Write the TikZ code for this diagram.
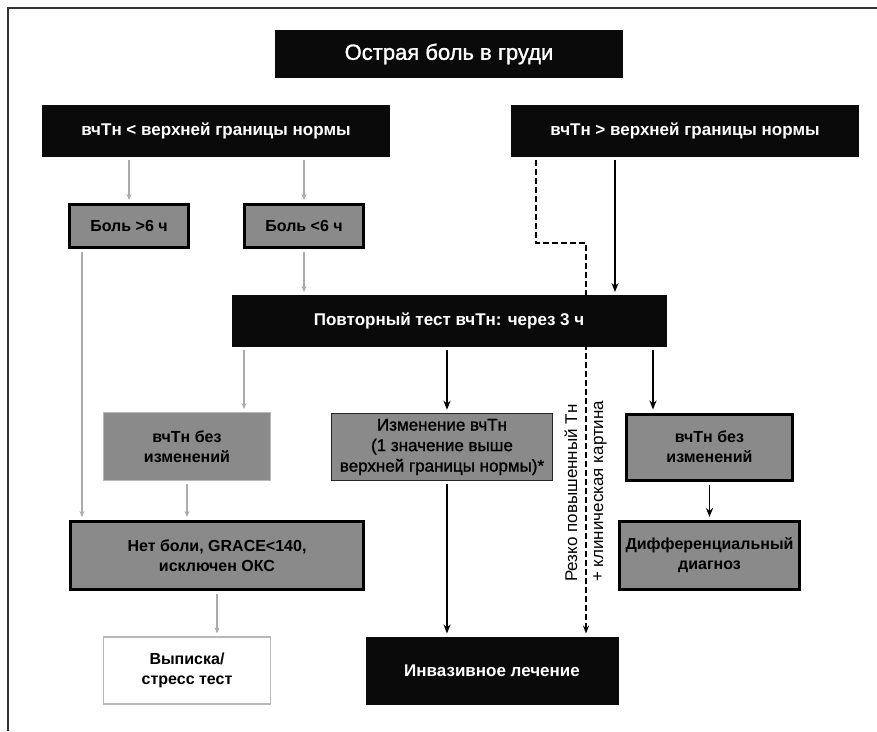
\documentclass[tikz,border=0pt]{standalone}
\usepackage{fontspec}
\setmainfont{Liberation Sans}
\newfontfamily\semibfont{Liberation Sans}[FakeBold=1.3]
\usetikzlibrary{arrows.meta,backgrounds}
\definecolor{boxgray}{HTML}{8A8A8A}
\definecolor{arrgray}{HTML}{ABABAB}
\definecolor{lightborder}{HTML}{B8B8B8}
\definecolor{nearblack}{HTML}{0A0A0A}
\begin{document}
\begin{tikzpicture}[x=1pt,y=-1pt,
  blk/.style={draw=nearblack, fill=nearblack, text=white, line width=1pt,
    font=\bfseries\fontsize{17}{20}\selectfont, inner sep=0pt, align=center},
  gry/.style={draw=black, line width=3pt, fill=boxgray, text=black,
    font=\bfseries\fontsize{16}{20}\selectfont, inner sep=0pt, align=center},
  gryl/.style={draw=lightborder, line width=1pt, fill=boxgray, text=black,
    font=\bfseries\fontsize{16}{20}\selectfont, inner sep=0pt, align=center},
  grym/.style={draw=black!85, line width=1.5pt, fill=boxgray, text=black,
    font=\semibfont\fontsize{17}{20.5}\selectfont, inner sep=0pt, align=center},
  wht/.style={draw=lightborder, line width=1.2pt, fill=white, text=black,
    font=\bfseries\fontsize{16}{20}\selectfont, inner sep=0pt, align=center},
  garr/.style={draw=arrgray, line width=1.2pt, -{Stealth[length=6pt,width=5pt]},
    shorten <=3pt, shorten >=3pt},
  barr/.style={draw=black, line width=1.8pt, -{Stealth[length=9pt,width=7pt]},
    shorten <=3pt, shorten >=3pt},
  darr/.style={draw=black, line width=1.6pt, dash pattern=on 6pt off 3pt,
    -{Stealth[length=8pt,width=6pt]}, shorten <=3pt, shorten >=3pt},
  rottext/.style={rotate=90, anchor=base west, inner sep=0pt,
    font=\fontsize{17}{20}\selectfont}
]
\useasboundingbox (0,0) rectangle (877,731);
\begin{scope}[on background layer]
  \fill[white] (0,0) rectangle (877,731);
\end{scope}
% frame
\draw[line width=2pt, color=black!80] (8,731) -- (8,8) -- (877,8);

% boxes
\node[blk, minimum width=347pt, minimum height=47pt,
  font=\semibfont\fontsize{22}{25}\selectfont] (title) at (449,54) {Острая боль в груди};
\node[blk, minimum width=347pt, minimum height=51pt] (lt) at (216,131) {вчТн < верхней границы нормы};
\node[blk, minimum width=347pt, minimum height=51pt] (gt) at (685,131) {вчТн > верхней границы нормы};
\node[gry, minimum width=119pt, minimum height=43pt] (b6a) at (129,226) {Боль >6 ч};
\node[gry, minimum width=119pt, minimum height=43pt] (b6b) at (304,226) {Боль <6 ч};
\node[blk, minimum width=434pt, minimum height=51pt] (rep) at (449,321) {Повторный тест вчТн: через 3 ч};
\node[gryl, minimum width=167pt, minimum height=68pt] (nc1) at (187,446.5) {вчТн без\\изменений};
\node[grym, minimum width=221pt, minimum height=67pt] (chg) at (442,447) {Изменение вчТн\\(1 значение выше\\верхней границы нормы)*};
\node[gry, minimum width=166pt, minimum height=66pt] (nc2) at (709.5,447) {вчТн без\\изменений};
\node[gry, minimum width=293pt, minimum height=68pt] (np) at (217,555.5) {Нет боли, GRACE<140,\\исключен ОКС};
\node[gry, minimum width=180pt, minimum height=68pt] (diff) at (709.5,555.5) {Дифференциальный\\диагноз};
\node[wht, minimum width=167pt, minimum height=67pt] (dis) at (187,670.5) {Выписка/\\стресс тест};
\node[blk, minimum width=252pt, minimum height=67pt] (inv) at (492,670.5) {Инвазивное лечение};

% rotated labels
\node[rottext] (lab1) at (577,582) {Резко повышенный Тн};
\node[rottext] (lab2) at (603,582) {+ клиническая картина};

% helper coordinates on box edges
\coordinate (b6aout) at ([xshift=14pt]b6a.south west);
\coordinate (nc1in) at ([xshift=-27pt]nc1.north east);
\coordinate (chgin) at ([xshift=5pt]chg.north);
\coordinate (chgout) at ([xshift=5pt]chg.south);
\coordinate (gtout) at ([xshift=-70pt]gt.south);
\coordinate (nc2in) at ([xshift=28pt]nc2.north west);
\coordinate (gtdash) at ([xshift=-149pt]gt.south);
\coordinate (invdash) at ([xshift=94pt]inv.north);

% gray connectors
\draw[garr] (lt.south -| b6a.north) -- (b6a.north);
\draw[garr] (lt.south -| b6b.north) -- (b6b.north);
\draw[garr] (b6b.south) -- (b6b.south |- rep.north);
\draw[garr] (b6aout) -- (b6aout |- np.north);
\draw[garr] (rep.south -| nc1in) -- (nc1in);
\draw[garr] (nc1.south) -- (nc1.south |- np.north);
\draw[garr] (np.south) -- (np.south |- dis.north);

% black connectors
\draw[barr] (rep.south -| chgin) -- (chgin);
\draw[barr] (chgout) -- (chgout |- inv.north);
\draw[barr] (gtout) -- (gtout |- rep.north);
\draw[barr] (rep.south -| nc2in) -- (nc2in);
\draw[barr] (nc2.south) -- (diff.north);

% dashed connector (behind boxes)
\begin{scope}[on background layer]
  \draw[darr] (gtdash) -- ++(0,86) -| (invdash);
\end{scope}
\end{tikzpicture}
\end{document}
